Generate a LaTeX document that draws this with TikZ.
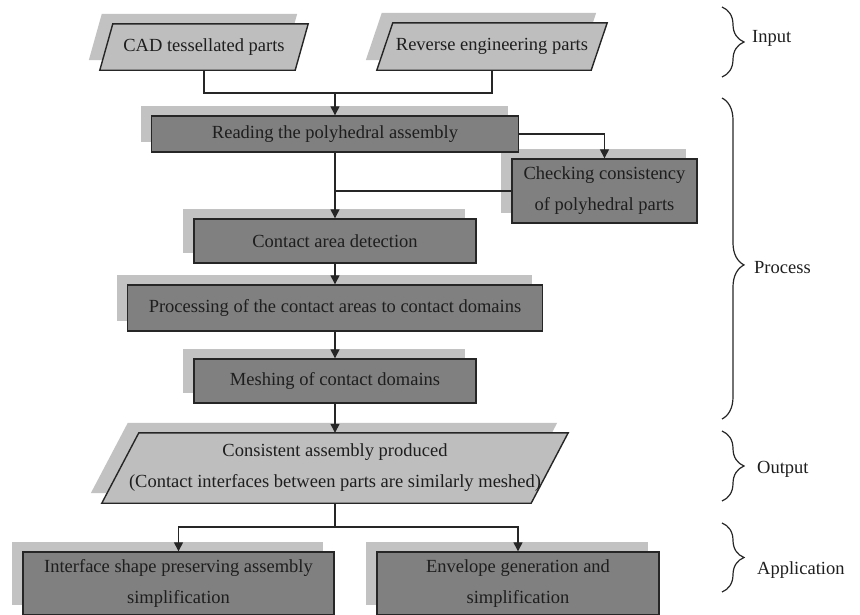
\documentclass[tikz,border=0pt]{standalone}
\usepackage{fontspec}
\setmainfont{Liberation Serif}
\usetikzlibrary{arrows.meta,shadows,decorations.pathreplacing,calc,backgrounds}
\definecolor{boxgray}{HTML}{808080}
\definecolor{paragray}{HTML}{BEBEBE}
\definecolor{shgray}{HTML}{C2C2C2}
\definecolor{edge}{HTML}{262626}
\definecolor{txt}{HTML}{1E1E1E}
\begin{document}
\begin{tikzpicture}[x=1pt,y=-1pt,
  font=\fontsize{18.5}{31}\selectfont,
  procbox/.style={draw=edge, line width=1.4pt, fill=boxgray, text=txt, inner sep=0pt, align=center,
    general shadow={fill=shgray, shadow xshift=-11pt, shadow yshift=10pt}},
  paratext/.style={inner sep=0pt, text=txt, align=center},
  parashape/.style={draw=edge, line width=1.4pt, fill=paragray, line join=miter,
    general shadow={fill=shgray, shadow xshift=-11pt, shadow yshift=10pt}},
  link/.style={draw=edge, line width=1.3pt},
  arr/.style={link, -{Triangle[length=9pt,width=9pt]}},
  bracestyle/.style={draw=edge, line width=1.2pt, decorate, decoration={brace, amplitude=22pt, aspect=#1}},
  bracestyle/.default=0.5,
  lbl/.style={anchor=west, text=txt, inner sep=0pt}
]
\useasboundingbox (0,0) rectangle (860,614);
\clip (0,0) rectangle (860,614);

% input parallelograms (text nodes, shapes on background)
\node[paratext, minimum width=208pt, minimum height=46pt] (cad) at (204,47) {CAD tessellated parts};
\node[paratext, minimum width=230pt, minimum height=47pt] (rev) at (492,46.5) {Reverse engineering parts};
\node[paratext, minimum width=466pt, minimum height=70pt] (out) at (335,468) {Consistent assembly produced\\(Contact interfaces between parts are similarly meshed)};
\begin{scope}[on background layer]
  \path[parashape] ($(cad.north west)+(13,0)$) -- (cad.north east) -- ($(cad.south east)-(13,0)$) -- (cad.south west) -- cycle;
  \path[parashape] ($(rev.north west)+(16,0)$) -- (rev.north east) -- ($(rev.south east)-(16,0)$) -- (rev.south west) -- cycle;
  \path[parashape] ($(out.north west)+(37,0)$) -- (out.north east) -- ($(out.south east)-(37,0)$) -- (out.south west) -- cycle;
\end{scope}

% process boxes
\node[procbox, minimum width=185pt, minimum height=64pt] (check) at (604.5,191) {Checking consistency\\of polyhedral parts};
\node[procbox, minimum width=367pt, minimum height=36pt] (read) at (335,134) {Reading the polyhedral assembly};
\node[procbox, minimum width=282pt, minimum height=44pt] (contact) at (335,241) {Contact area detection};
\node[procbox, minimum width=415pt, minimum height=46pt] (proc) at (335,308) {Processing of the contact areas to contact domains};
\node[procbox, minimum width=282pt, minimum height=44pt] (mesh) at (335,381) {Meshing of contact domains};
\node[procbox, minimum width=311pt, minimum height=63pt] (app1) at (178.5,583.5) {Interface shape preserving assembly\\simplification};
\node[procbox, minimum width=282pt, minimum height=63pt] (app2) at (518,583.5) {Envelope generation and\\simplification};

% connectors
\coordinate (y93) at (0,93);
\coordinate (j1) at (read.north |- y93);
\draw[link] (cad.south) |- (j1) -| (rev.south);
\draw[arr] (j1) -- (read.north);
\draw[arr] (read.east) -| (check.north);
\draw[arr] (read.south) -- (contact.north);
\draw[link] (check.west) -- (check.west -| read.south);
\draw[arr] (contact.south) -- (proc.north);
\draw[arr] (proc.south) -- (mesh.north);
\draw[arr] (mesh.south) -- (out.north);
\coordinate (y527) at (0,527);
\coordinate (j2) at (out.south |- y527);
\draw[link] (out.south) -- (j2);
\draw[arr] (j2) -| (app1.north);
\draw[arr] (j2) -| (app2.north);

% braces and labels
\draw[bracestyle] (722,7) -- (722,77);
\node[lbl] (linput) at (752,38) {Input};
\draw[bracestyle=0.52] (722,98) -- (722,419);
\node[lbl] (lprocess) at (754,268) {Process};
\draw[bracestyle] (722,431) -- (722,501);
\node[lbl] (loutput) at (757,469) {Output};
\draw[bracestyle] (722,523) -- (722,592);
\node[lbl] (lapp) at (757,570) {Application};
\end{tikzpicture}
\end{document}
